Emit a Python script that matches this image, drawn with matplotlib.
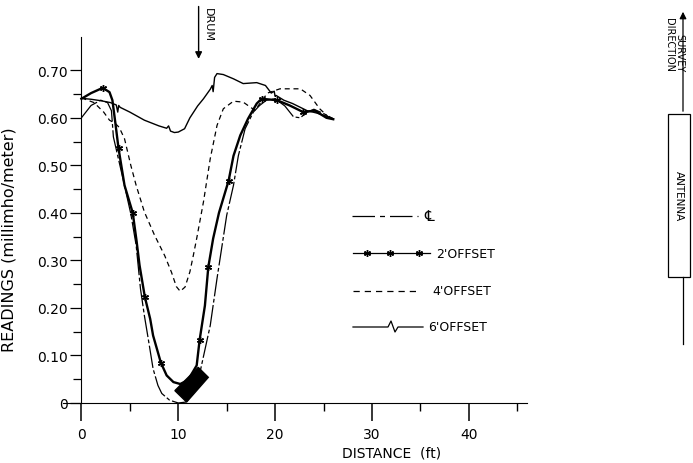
import numpy as np
import matplotlib
matplotlib.use("Agg")
import matplotlib.pyplot as plt
from matplotlib.lines import Line2D
from matplotlib.patches import Rectangle

# Readings (millimho/meter) against distance (ft)
cl_x = [0, 1, 2, 2.7, 3.1, 3.3, 4.2, 5.1, 5.65, 6.1, 6.5, 6.9, 7.4, 7.9, 8.3, 9.1, 10.0,
        10.8, 11.5, 12.3, 13.3, 14.0, 15.0, 15.7, 16.2, 16.9, 17.75, 18.4, 19.1, 20.0,
        21.0, 21.9, 22.6, 23.3, 24.0, 25.0, 26.0]
cl_y = [0.600, 0.626, 0.637, 0.632, 0.615, 0.560, 0.480, 0.398, 0.332, 0.240, 0.184,
        0.135, 0.072, 0.037, 0.020, 0.006, 0.000, 0.002, 0.020, 0.070, 0.163, 0.262,
        0.395, 0.458, 0.520, 0.577, 0.612, 0.626, 0.637, 0.640, 0.625, 0.602, 0.600,
        0.612, 0.618, 0.609, 0.598]

off2_x = [0, 1, 2.2, 2.9, 3.2, 3.5, 3.83, 4.45, 5.3, 5.7, 6.0, 6.55, 7.1, 7.4, 8.2, 8.8,
          9.5, 10.2, 11.0, 11.9, 12.2, 12.75, 13.1, 13.6, 14.2, 15.2, 15.7, 16.4, 17.2,
          18.1, 18.6, 20.2, 21.5, 22.9, 24.1, 25.3, 26.0]
off2_y = [0.640, 0.652, 0.663, 0.654, 0.637, 0.590, 0.536, 0.458, 0.400, 0.340, 0.290,
          0.223, 0.177, 0.142, 0.085, 0.058, 0.044, 0.040, 0.048, 0.079, 0.132, 0.205,
          0.286, 0.346, 0.400, 0.468, 0.520, 0.563, 0.598, 0.630, 0.640, 0.637, 0.626,
          0.612, 0.615, 0.600, 0.597]
off2_marks = [2, 6, 8, 11, 14, 20, 22, 25, 30, 31, 33]

off4_x = [0, 1.3, 2.3, 2.9, 3.5, 3.9, 4.45, 5.1, 5.65, 6.5, 7.55, 8.6, 9.3, 9.8, 10.2,
          10.7, 11.2, 11.55, 11.9, 12.6, 13.3, 14.0, 14.65, 15.7, 16.7, 17.4, 17.9, 18.5,
          19.2, 20.5, 22.6, 23.6, 24.6, 25.7, 26.0]
off4_y = [0.642, 0.632, 0.612, 0.595, 0.588, 0.580, 0.556, 0.500, 0.458, 0.402, 0.353,
          0.310, 0.275, 0.245, 0.235, 0.244, 0.276, 0.310, 0.346, 0.423, 0.514, 0.584,
          0.619, 0.635, 0.633, 0.623, 0.616, 0.632, 0.652, 0.661, 0.661, 0.647, 0.619,
          0.598, 0.597]

off6_x = [0, 1, 2, 3, 3.6, 3.75, 3.85, 4.0, 5, 6.5, 8, 8.8, 9.0, 9.2, 9.6, 10, 10.65,
          11.2, 12, 12.6, 13.3, 13.5, 13.6, 13.75, 14, 14.65, 15.7, 16.7, 18.1, 19.0,
          19.6, 19.9, 20.0, 20.1, 20.9, 21.8, 22.6, 23.3, 24.3, 25.2, 26]
off6_y = [0.641, 0.639, 0.636, 0.632, 0.627, 0.612, 0.626, 0.622, 0.612, 0.595, 0.583,
          0.578, 0.583, 0.572, 0.569, 0.570, 0.577, 0.600, 0.625, 0.640, 0.660, 0.668,
          0.655, 0.685, 0.693, 0.691, 0.682, 0.672, 0.674, 0.668, 0.652, 0.656, 0.645,
          0.647, 0.637, 0.630, 0.622, 0.615, 0.610, 0.604, 0.598]

# the drum, drawn as a filled block
drum_x = [9.65, 10.86, 13.1, 12.06]
drum_y = [0.026, 0.002, 0.054, 0.075]

fig = plt.figure(figsize=(6.93, 4.64), dpi=100)
ax = fig.add_axes([63/693, 60/464, 464/693, 366/464])

ax.plot(cl_x, cl_y, color="black", lw=0.9, dashes=(18, 2, 3, 2))
ax.plot(off2_x, off2_y, color="black", lw=1.7, marker=(6, 2, 0), ms=5, mew=1.0,
        markevery=off2_marks)
ax.plot(off4_x, off4_y, color="black", lw=0.9, dashes=(4, 3))
ax.plot(off6_x, off6_y, color="black", lw=1.0)
ax.fill(drum_x, drum_y, color="black")

ax.set_xlim(-1.9, 46)
ax.set_ylim(0, 0.77)
ax.spines["left"].set_position(("data", 0))
ax.spines["top"].set_visible(False)
ax.spines["right"].set_visible(False)

ax.set_xticks([0, 10, 20, 30, 40])
ax.set_xticks([5, 15, 25, 35, 45], minor=True)
ax.set_yticks([0, 0.1, 0.2, 0.3, 0.4, 0.5, 0.6, 0.7])
ax.set_yticklabels(["0", "0.10", "0.20", "0.30", "0.40", "0.50", "0.60", "0.70"])
ax.set_yticks([0.05, 0.15, 0.25, 0.35, 0.45, 0.55, 0.65], minor=True)
ax.tick_params(axis="x", which="major", length=13, width=1.1, labelsize=10, pad=4)
ax.tick_params(axis="x", which="minor", length=6, width=1.0)
ax.tick_params(axis="y", which="major", length=8, width=0.9, labelsize=10, pad=2)
ax.tick_params(axis="y", which="minor", length=6, width=0.9)

ax.set_xlabel("DISTANCE  (ft)", fontsize=10)
ax.xaxis.set_label_coords(0.709, -0.115)
ax.set_ylabel("READINGS (millimho/meter)", fontsize=11.5)
ax.yaxis.set_label_coords(-0.10, 0.45)

# legend drawn by hand, in figure pixels
W, H = 693, 464
def P(px, py):
    return px / W, 1 - py / H

def seg(xs, ys, **kw):
    pts = [P(a, b) for a, b in zip(xs, ys)]
    fig.add_artist(Line2D([p[0] for p in pts], [p[1] for p in pts],
                          transform=fig.transFigure, color="black", **kw))

seg([352, 418], [217, 217], lw=0.9, dashes=(18, 4, 4, 4))
fig.text(*P(424, 217), "℄", fontsize=11, va="center")
seg([353, 430], [254, 254], lw=0.9)
seg([367, 390, 419], [254, 254, 254], lw=0, marker=(6, 2, 0), ms=5, mew=1.0)
fig.text(*P(436, 254), "2'OFFSET", fontsize=9, va="center")
seg([353, 420], [292, 292], lw=0.9, dashes=(5, 4))
fig.text(*P(432, 292), "4'OFFSET", fontsize=9, va="center")
seg([353, 388, 391, 395, 398, 423], [328, 328, 322, 333, 328, 328], lw=0.9)
fig.text(*P(428, 328), "6'OFFSET", fontsize=9, va="center")

# drum marker at top
ax.annotate("", xy=(12.1, 0.718), xytext=(12.1, 0.84), xycoords="data",
            arrowprops=dict(arrowstyle="-|>", color="black", lw=1.0, mutation_scale=10),
            annotation_clip=False)
fig.text(*P(203, 8), "DRUM", rotation=-90, fontsize=8, ha="left", va="top")

# antenna sketch on the right
fig.add_artist(Rectangle(P(668, 278), 22 / W, (278 - 115) / H, transform=fig.transFigure,
                         fill=False, ec="black", lw=0.9))
seg([683, 683], [278, 345], lw=0.9)
ax.annotate("", xy=P(683, 10), xytext=P(683, 115), xycoords="figure fraction",
            arrowprops=dict(arrowstyle="-|>", color="black", lw=0.9, mutation_scale=10))
fig.text(*P(679, 196), "ANTENNA", rotation=-90, fontsize=7.5, ha="center", va="center")
fig.text(*P(684, 18), "SURVEY\nDIRECTION", rotation=-90, fontsize=7, ha="right",
         va="top", linespacing=0.95)

fig.savefig("out.png", dpi=100)
